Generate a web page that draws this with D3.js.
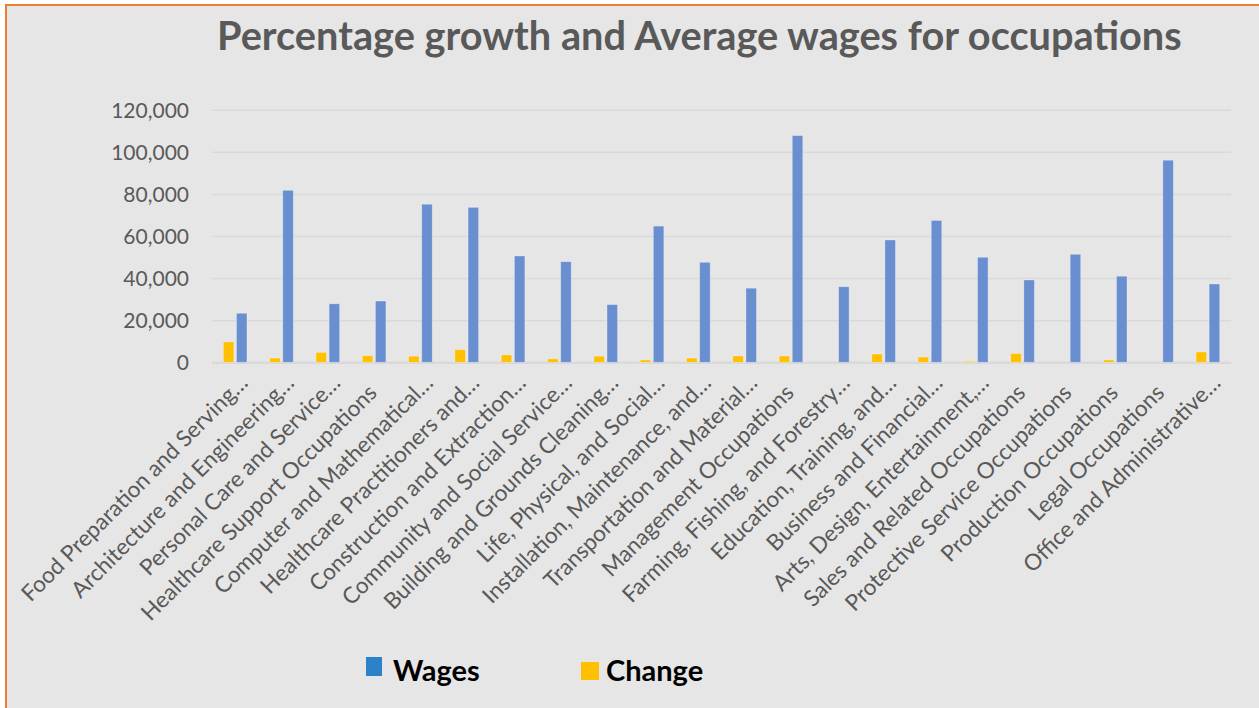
<!DOCTYPE html>
<html>
<head>
<meta charset="utf-8">
<script src="https://cdn.jsdelivr.net/npm/d3@7/dist/d3.min.js"></script>
<style>
  html, body { margin: 0; padding: 0; background: #ffffff; }
  svg { display: block; }
</style>
</head>
<body>
<svg id="chart" width="1259" height="708"></svg>
<script>
// Occupation groups (labels as they appear on the axis)
const categories = [
  "Food Preparation and Serving…",
  "Architecture and Engineering…",
  "Personal Care and Service…",
  "Healthcare Support Occupations",
  "Computer and Mathematical…",
  "Healthcare Practitioners and…",
  "Construction and Extraction…",
  "Community and Social Service…",
  "Building and Grounds Cleaning…",
  "Life, Physical, and Social…",
  "Installation, Maintenance, and…",
  "Transportation and Material…",
  "Management Occupations",
  "Farming, Fishing, and Forestry…",
  "Education, Training, and…",
  "Business and Financial…",
  "Arts, Design, Entertainment,…",
  "Sales and Related Occupations",
  "Protective Service Occupations",
  "Production Occupations",
  "Legal Occupations",
  "Office and Administrative…"
];

// Average annual wages
const wages = [
  23300, 81700, 27800, 29100, 75100, 73600, 50500, 47800, 27400, 64700, 47500,
  35200, 107700, 35900, 58100, 67400, 49900, 39100, 51300, 40900, 96000, 37200
];

// Employment change
const change = [
  9700, 2000, 4700, 3100, 2900, 6000, 3500, 1600, 2900, 1100, 2000,
  3000, 3000, 0, 3900, 2500, 500, 4200, 0, 1100, 0, 4900
];

const yTicks = [0, 20000, 40000, 60000, 80000, 100000, 120000];
const seriesNames = ["Change", "Wages"];   // draw order inside each group

const titleText = "Percentage growth and Average wages for occupations";

const W = 1259, H = 708;
const svg = d3.select("#chart");

const barColor = { Wages: "#6a8fd0", Change: "#ffc000" };
const keyColor = { Wages: "#2b82c9", Change: "#ffc000" };
const textGray = "#595959";
const FONT = "Lato, 'Open Sans', 'DejaVu Sans', sans-serif";

// Chart frame
svg.append("rect").attr("x", 0).attr("y", 0).attr("width", W).attr("height", H).attr("fill", "#ffffff");
svg.append("rect")
  .attr("x", 6).attr("y", 5).attr("width", W + 20).attr("height", H + 20)
  .attr("fill", "#e6e6e6").attr("stroke", "#ed7d31").attr("stroke-width", 2);

// Plot area
const plot = { left: 212, right: 1231, top: 109.7, bottom: 362.3 };

const x0 = d3.scaleBand()
  .domain(categories)
  .range([plot.left, plot.right])
  .paddingInner(0.49)
  .paddingOuter(0.245);

const x1 = d3.scaleBand()
  .domain(seriesNames)
  .range([0, x0.bandwidth()])
  .paddingInner(0.2)
  .paddingOuter(0);

const y = d3.scaleLinear().domain([0, 120000]).range([plot.bottom, plot.top]);

// Gridlines and value labels
const yAxis = d3.axisLeft(y)
  .tickValues(yTicks)
  .tickSize(-(plot.right - plot.left))
  .tickFormat(d3.format(","))
  .tickPadding(23);

const gy = svg.append("g")
  .attr("transform", `translate(${plot.left},0)`)
  .call(yAxis);
gy.select(".domain").remove();
gy.selectAll(".tick line")
  .attr("stroke", "#d9d9d9")
  .attr("stroke-width", d => d === 0 ? 2.4 : 1.5);
gy.selectAll(".tick text")
  .attr("fill", textGray)
  .attr("font-family", FONT)
  .attr("font-size", 21)
  .attr("dy", "0.36em");

// Bars
const rows = categories.map((c, i) => ({ cat: c, Wages: wages[i], Change: change[i] }));

const groups = svg.append("g").selectAll("g")
  .data(rows)
  .join("g")
  .attr("transform", d => `translate(${x0(d.cat)},0)`);

groups.selectAll("rect")
  .data(d => seriesNames.map(k => ({ key: k, value: d[k] })))
  .join("rect")
  .attr("x", d => x1(d.key))
  .attr("width", x1.bandwidth())
  .attr("y", d => y(d.value))
  .attr("height", d => y(0) - y(d.value))
  .attr("fill", d => barColor[d.key])
  .attr("stroke", "rgba(255,255,255,0.35)")
  .attr("stroke-width", 0.8);

// Category labels, rotated 45°
const xAxis = d3.axisBottom(x0).tickSize(0).tickPadding(0);
const gx = svg.append("g")
  .attr("transform", `translate(0,${plot.bottom})`)
  .call(xAxis);
gx.select(".domain").remove();

// Size the labels so a known label gets its intended length
const probe = svg.append("text").attr("font-family", FONT).attr("font-size", 20).text("Legal Occupations");
const labelSize = 20 * 181 / probe.node().getComputedTextLength();
probe.remove();

gx.selectAll(".tick text")
  .attr("fill", textGray)
  .attr("font-family", FONT)
  .attr("font-size", labelSize)
  .attr("text-anchor", "end")
  .attr("dy", 0)
  .attr("y", 0)
  .attr("transform", d => {
    const full = !d.endsWith("…");
    const back = full ? 14 : 0;
    const px = 14 - back * Math.SQRT1_2;
    const py = 22 + back * Math.SQRT1_2;
    return `translate(${px},${py}) rotate(-45)`;
  });

// Title, fitted to its width
const title = svg.append("text")
  .attr("x", 217).attr("y", 50)
  .attr("font-family", FONT)
  .attr("font-weight", 700)
  .attr("font-size", 36)
  .attr("fill", textGray)
  .text(titleText);
const tw = title.node().getComputedTextLength();
title.attr("font-size", 36 * 965 / tw);

// Legend
const legendItems = [
  { name: "Wages", sx: 366, sy: 657, sw: 16, sh: 19, tx: 393 },
  { name: "Change", sx: 581, sy: 662, sw: 18, sh: 18, tx: 606 }
];
const lg = svg.append("g");
legendItems.forEach(it => {
  lg.append("rect")
    .attr("x", it.sx).attr("y", it.sy).attr("width", it.sw).attr("height", it.sh)
    .attr("fill", keyColor[it.name]);
  lg.append("text")
    .attr("x", it.tx).attr("y", 681)
    .attr("font-family", FONT)
    .attr("font-weight", 700)
    .attr("font-size", 29)
    .attr("fill", "#000000")
    .text(it.name);
});
</script>
</body>
</html>
